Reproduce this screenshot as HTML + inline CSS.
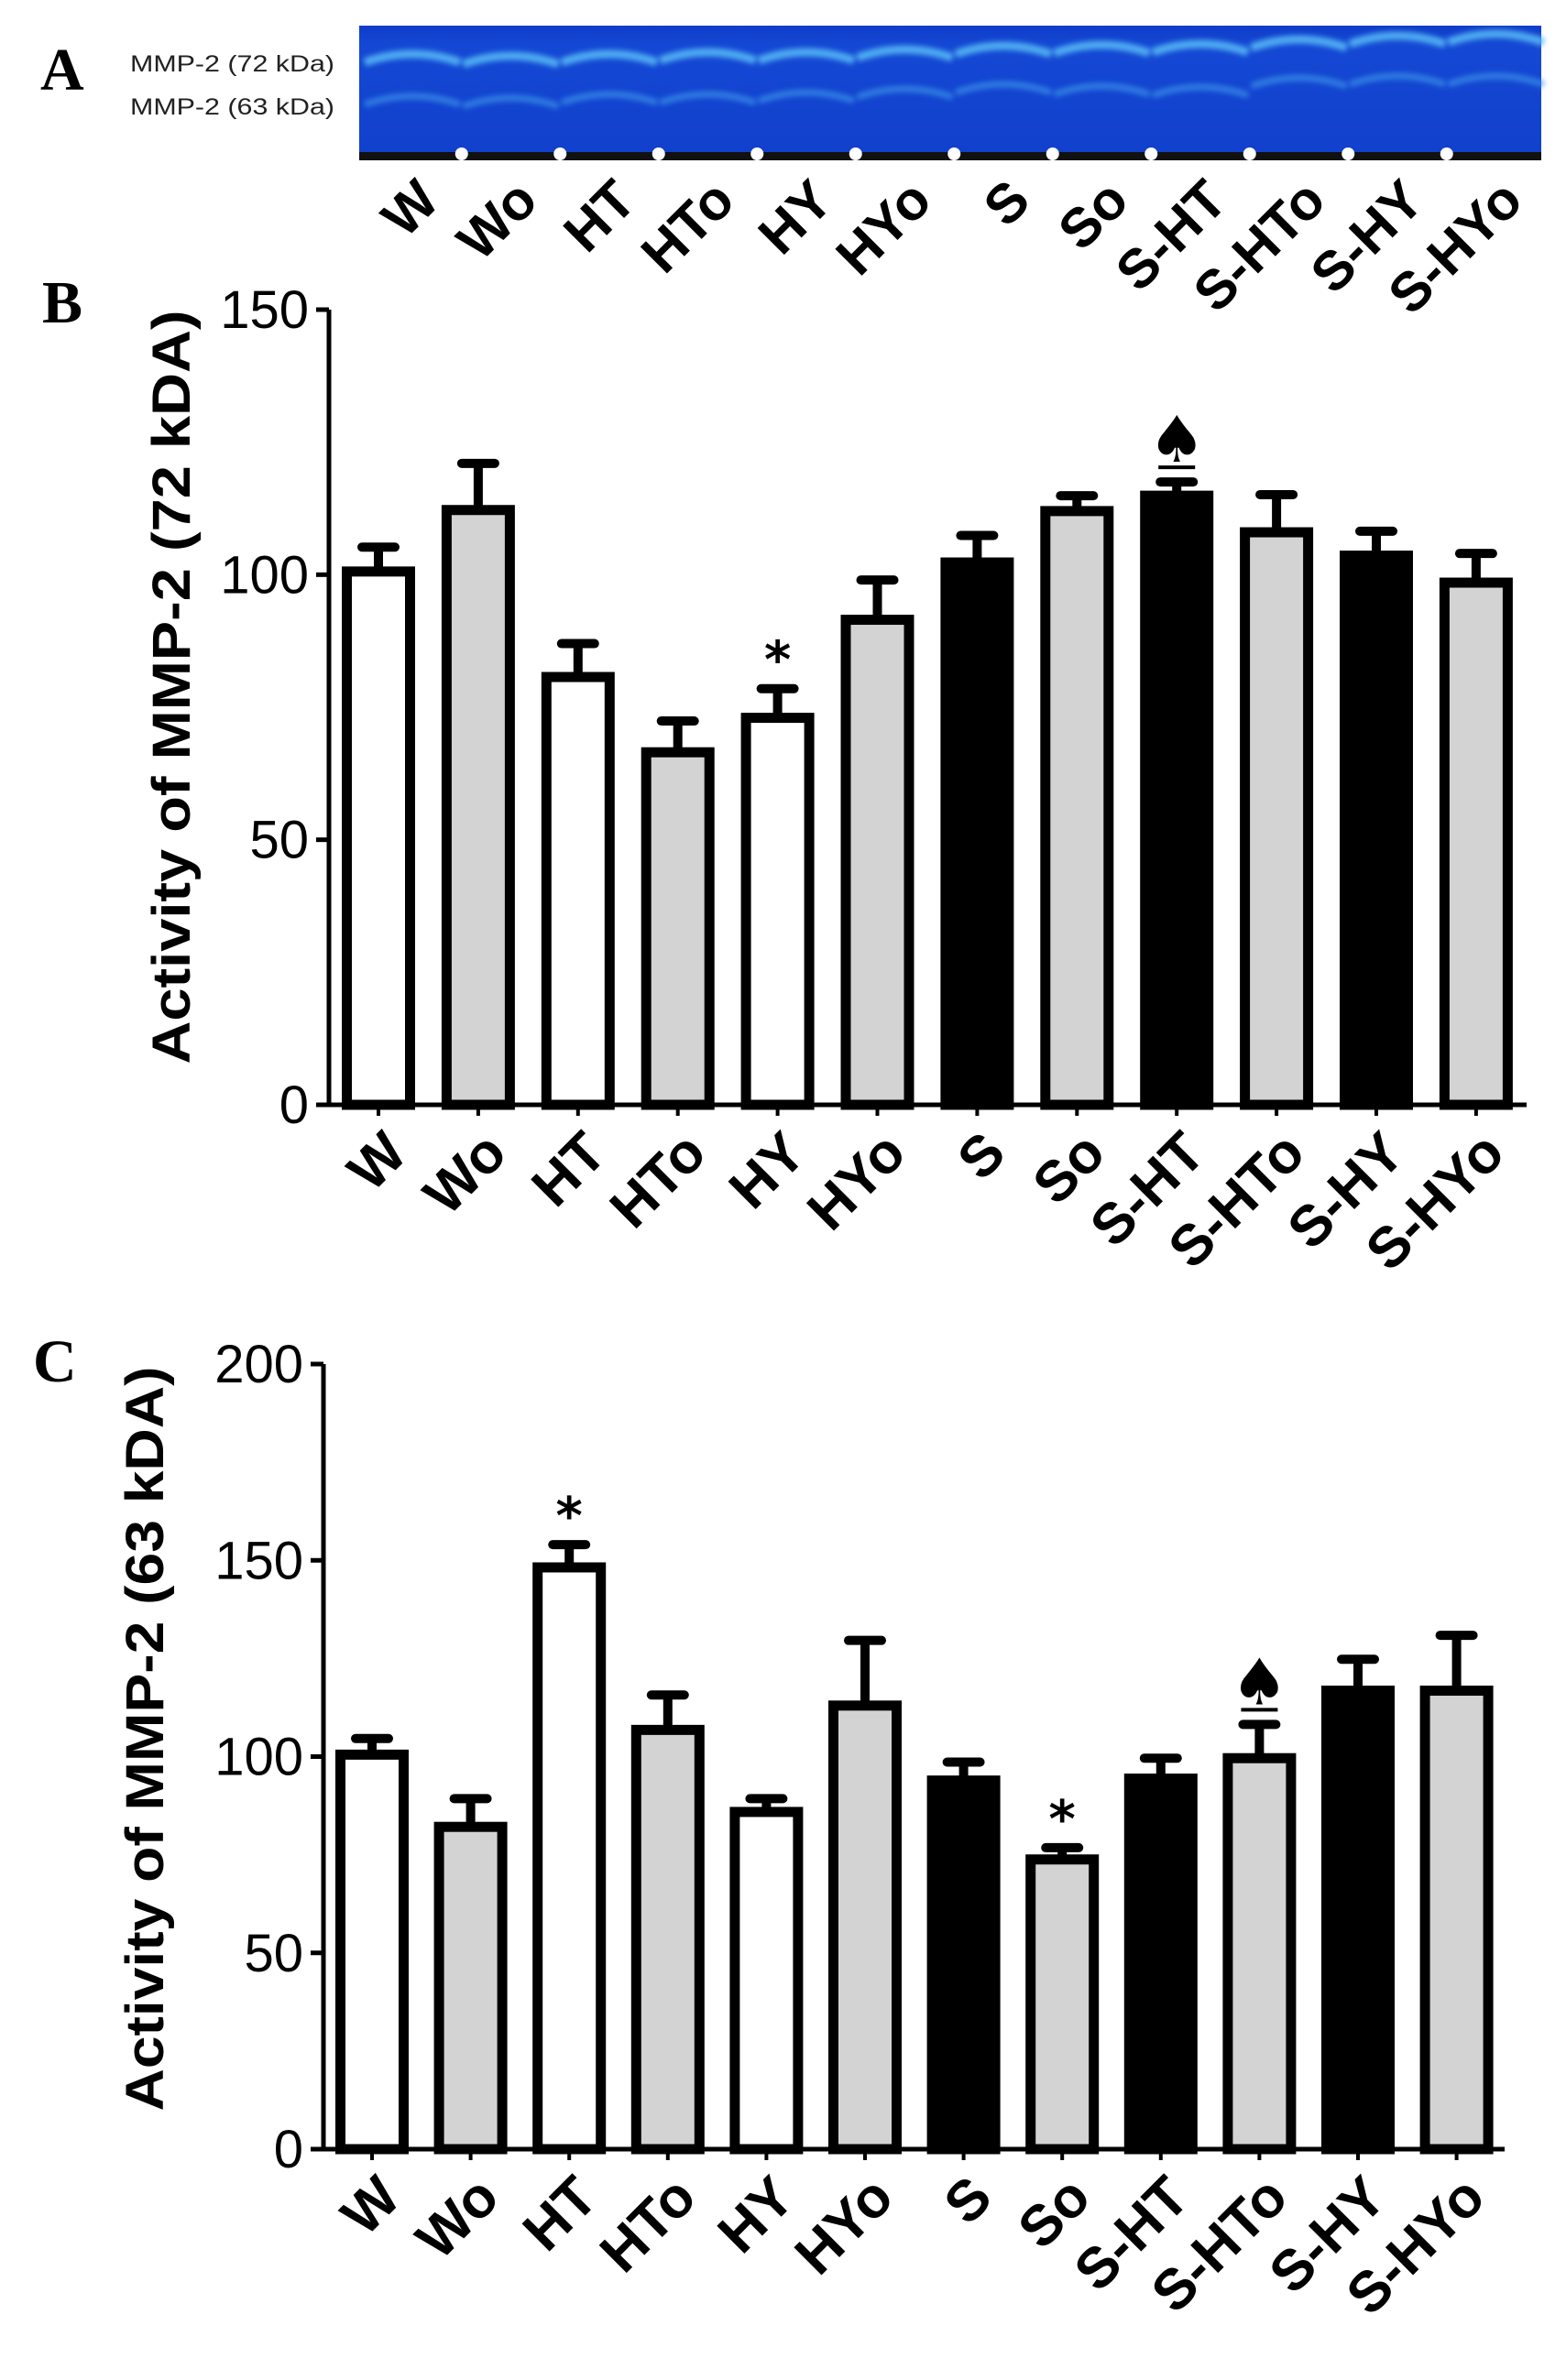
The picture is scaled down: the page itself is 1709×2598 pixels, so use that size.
<!DOCTYPE html>
<html><head><meta charset="utf-8"><style>
html,body{margin:0;padding:0;background:#fff;}
svg{display:block;}
text{font-family:"Liberation Sans",Arial,sans-serif;}
</style></head><body>
<svg id="fig" width="1709" height="2598" viewBox="0 0 1709 2598" xmlns="http://www.w3.org/2000/svg">
<defs>
<linearGradient id="gelg" x1="0" y1="0" x2="0" y2="1">
<stop offset="0" stop-color="#0f3cc8"/><stop offset="0.15" stop-color="#1448d4"/><stop offset="1" stop-color="#1140cc"/>
</linearGradient>
<filter id="blur" x="-10%" y="-50%" width="120%" height="200%"><feGaussianBlur stdDeviation="3"/></filter>
</defs>
<g id="panelA">
<text x="44" y="98" font-family="Liberation Serif" font-weight="bold" font-size="66" style="font-family:'Liberation Serif',serif">A</text>
<text x="142" y="78" font-size="25" fill="#222" textLength="223" lengthAdjust="spacingAndGlyphs">MMP-2 (72 kDa)</text>
<text x="142" y="125" font-size="25" fill="#222" textLength="223" lengthAdjust="spacingAndGlyphs">MMP-2 (63 kDa)</text>
<rect x="392" y="28" width="1290" height="142" fill="url(#gelg)"/>
<g id="bands" filter="url(#blur)"></g>
<rect x="392" y="166" width="1290" height="9" fill="#111"/>
<g id="dots"></g>
<g id="laneLabels"></g>
</g>
<g id="chartB"></g>
<g id="chartC"></g>
</svg>
<script>
const categories = ["W","Wo","HT","HTo","HY","HYo","S","So","S-HT","S-HTo","S-HY","S-HYo"];
const fills = ["#fff","#d3d3d3","#fff","#d3d3d3","#fff","#d3d3d3","#000","#d3d3d3","#000","#d3d3d3","#000","#d3d3d3"];
const valuesB = [100.6,112.2,80.7,66.5,73,91.5,102.3,112,114.9,108,103.6,98.5];
const errB = [105.2,121,87,72.4,78.5,99,107.4,114.9,117.5,115.1,108.2,104];
const marksB = ["","","","","*","","","","♠","","",""];
const ticksB = [0,50,100,150];
const valuesC = [100.5,82.1,148.2,106.8,85.9,113,93.9,73.8,94.4,99.6,116.8,116.8];
const errC = [104.6,89.3,154,115.7,89.3,129.6,98.6,76.8,99.6,108.2,124.8,130.9];
const marksC = ["","","*","","","","","*","","♠","",""];
const ticksC = [0,50,100,150,200];
const laneBand72 = [62,64,62,60,60,57,53,52,51,46,42,40];
const laneBand63 = [108,110,106,106,104,100,95,97,98,88,86,86];

const NS="http://www.w3.org/2000/svg";
function mk(tag, attrs, parent){const e=document.createElementNS(NS,tag);for(const k in attrs)e.setAttribute(k,attrs[k]);parent.appendChild(e);return e;}

const bands=document.getElementById('bands');
const dots=document.getElementById('dots');
const ll=document.getElementById('laneLabels');
const laneX0=450, lanePitch=107.5;
categories.forEach((c,i)=>{
  const cx=laneX0+i*lanePitch;
  const b1=mk('path',{d:`M${cx-52},${laneBand72[i]+6} Q${cx},${laneBand72[i]-12} ${cx+52},${laneBand72[i]+6}`,stroke:'#55b8f5','stroke-width':9,fill:'none','stroke-opacity':0.9},bands);
  
  
  const b2=mk('path',{d:`M${cx-52},${laneBand63[i]+6} Q${cx},${laneBand63[i]-12} ${cx+52},${laneBand63[i]+6}`,stroke:'#3a90e8','stroke-width':7,fill:'none','stroke-opacity':0.75},bands);
  
  
  if(i<11){
    const d=mk('circle',{cx:cx+lanePitch/2,cy:168,r:7,fill:'#fff'},dots);
    
    
  }
  const t=mk('text',{x:0,y:0,'font-size':60,'font-weight':'bold','text-anchor':'end',transform:`translate(${cx+32},${222}) rotate(-45)`},ll);
  t.textContent=c;
  
  
});

function drawChart(gid, vals, errs, marks, ticks, o){
  const g=document.getElementById(gid);
  const ymax=ticks[ticks.length-1];
  const Y=v=>o.y0-(v/ymax)*(o.y0-o.yTop);
  const X=i=>o.x0+i*o.pitch;
  vals.forEach((v,i)=>{
    const cx=X(i), w=80, sw=11;
    const e=errs[i];
    const ln=mk('line',{x1:cx,x2:cx,y1:Y(v),y2:Y(e),stroke:'#000','stroke-width':10},g);
    
    
    const cap=mk('line',{x1:cx-18,x2:cx+18,y1:Y(e),y2:Y(e),stroke:'#000','stroke-width':10,'stroke-linecap':'round'},g);
    
    
    const r=mk('rect',{x:cx-w/2+sw/2,y:Y(v),width:w-sw,height:o.y0-Y(v),fill:fills[i],stroke:'#000','stroke-width':sw},g);
    
    
    const tk=mk('line',{x1:cx,x2:cx,y1:o.y0,y2:o.y0+12,stroke:'#000','stroke-width':4},g);
    
    
    const t=mk('text',{x:0,y:0,'font-size':62,'font-weight':'bold','text-anchor':'end',transform:`translate(${cx+34},${o.y0+56}) rotate(-45)`},g);
    t.textContent=categories[i];
    
    
    if(marks[i]){
      const m=mk('text',{x:cx,y:Y(e)-(marks[i]==='*'?12:22),'font-size':marks[i]==='*'?56:70,'font-weight':'bold','text-anchor':'middle',style:'font-family:"DejaVu Sans","Liberation Sans",sans-serif'},g);
      m.textContent=marks[i];
      
      
      if(marks[i]!=='*'){
        const ul=mk('line',{x1:cx-20,x2:cx+20,y1:Y(e)-16,y2:Y(e)-16,stroke:'#000','stroke-width':4},g);
        
        
      }
    }
  });
  const ya=mk('line',{x1:o.axisX,x2:o.axisX,y1:o.yTop,y2:o.y0+2,stroke:'#000','stroke-width':5},g);
  
  
  const xa=mk('line',{x1:o.axisX-2,x2:o.axisEnd,y1:o.y0,y2:o.y0,stroke:'#000','stroke-width':5},g);
  
  
  ticks.forEach(tv=>{
    const l=mk('line',{x1:o.axisX-14,x2:o.axisX,y1:Y(tv),y2:Y(tv),stroke:'#000','stroke-width':5},g);
    
    
    const t=mk('text',{x:o.axisX-22,y:Y(tv)+20,'font-size':58,'text-anchor':'end'},g);
    t.textContent=tv;
    
    
  });
  const tt=mk('text',{x:0,y:0,'font-size':58,'font-weight':'bold','text-anchor':'middle',textLength:o.titleLen,lengthAdjust:'spacingAndGlyphs',transform:`translate(${o.titleX},${o.titleY}) rotate(-90)`},g);
  tt.textContent=o.title;
  
  
  const pl=mk('text',{x:o.labelX,y:o.labelY,'font-size':66,'font-weight':'bold',style:"font-family:'Liberation Serif',serif"},g);
  pl.textContent=o.label;
  
  
}
drawChart('chartB',valuesB,errB,marksB,ticksB,{x0:413,pitch:108.9,y0:1206,yTop:338,axisX:359,axisEnd:1666,title:'Activity of MMP-2 (72 kDA)',titleX:207,titleY:750,titleLen:823,label:'B',labelX:46,labelY:352});
drawChart('chartC',valuesC,errC,marksC,ticksC,{x0:406,pitch:107.6,y0:2346,yTop:1489,axisX:353,axisEnd:1642,title:'Activity of MMP-2 (63 kDA)',titleX:178,titleY:1898,titleLen:813,label:'C',labelX:36,labelY:1508});
</script>
</body></html>
